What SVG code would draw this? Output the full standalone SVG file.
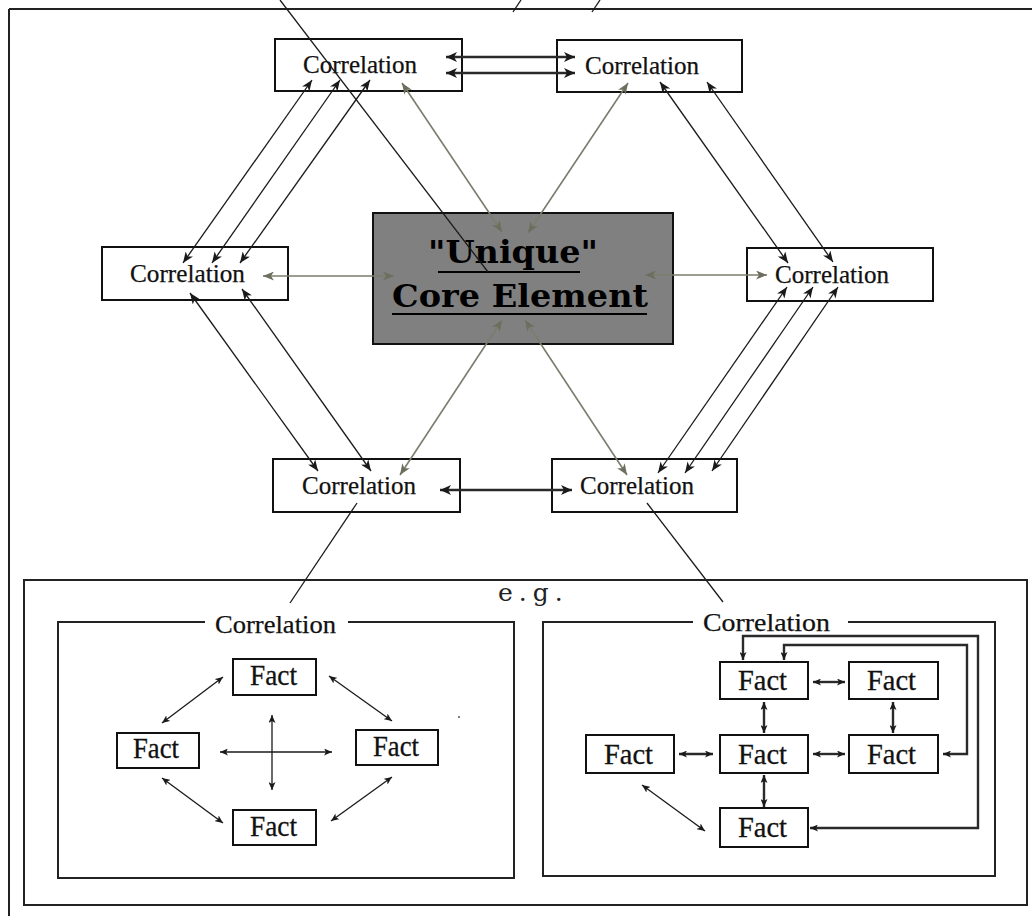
<svg xmlns="http://www.w3.org/2000/svg" width="1032" height="916" viewBox="0 0 1032 916">
<style>
.box{fill:#fff;stroke:#111;stroke-width:2}
.lbl{font-family:"Liberation Serif","Times New Roman",serif;font-size:26px;fill:#111;stroke:#111;stroke-width:0.25}
.fact{font-family:"Liberation Serif","Times New Roman",serif;font-size:29px;fill:#111;stroke:#111;stroke-width:0.3}
.core{font-family:"DejaVu Serif",serif;font-weight:bold;font-size:31px;fill:#000}
.blk{fill:none;stroke:#1a1a1a;stroke-width:1.3}
.gry{fill:none;stroke:#7c7c6c;stroke-width:1.6}
.thk{fill:none;stroke:#2a2a2a;stroke-width:2.4}
.frm{fill:none;stroke:#222;stroke-width:2}
</style>
<defs>
<marker id="ab" markerUnits="userSpaceOnUse" markerWidth="11" markerHeight="9" refX="11" refY="4.5" orient="auto-start-reverse"><path d="M0,0 L11,4.5 L0,9 L3,4.5 z" fill="#1a1a1a"/></marker>
<marker id="ag" markerUnits="userSpaceOnUse" markerWidth="11" markerHeight="9" refX="11" refY="4.5" orient="auto-start-reverse"><path d="M0,0 L11,4.5 L0,9 L3,4.5 z" fill="#6e6e5e"/></marker>
<marker id="at" markerUnits="userSpaceOnUse" markerWidth="11" markerHeight="10" refX="11" refY="5" orient="auto-start-reverse"><path d="M0,0 L11,5 L0,10 L3,5 z" fill="#1a1a1a"/></marker>
<marker id="as" markerUnits="userSpaceOnUse" markerWidth="8" markerHeight="7" refX="8" refY="3.5" orient="auto-start-reverse"><path d="M0,0 L8,3.5 L0,7 L2,3.5 z" fill="#1a1a1a"/></marker>
</defs>

<g id="frame">
<line class="frm" x1="9" y1="9" x2="1032" y2="9"/>
<line class="frm" x1="9" y1="9" x2="9" y2="916"/>
<line class="blk" x1="521" y1="0" x2="513" y2="12"/>
<line class="blk" x1="600" y1="0" x2="592" y2="12"/>
</g>

<g id="core">
<rect x="373" y="213" width="300" height="131" fill="#808080" stroke="#111" stroke-width="2"/>
<text class="core" x="513" y="263" text-anchor="middle" textLength="170" lengthAdjust="spacingAndGlyphs">"Unique"</text>
<line x1="438" y1="272" x2="580" y2="272" stroke="#000" stroke-width="2"/>
<text class="core" x="520" y="307" text-anchor="middle" textLength="256" lengthAdjust="spacingAndGlyphs">Core Element</text>
<line x1="392" y1="314" x2="647" y2="314" stroke="#000" stroke-width="2"/>
</g>

<g id="corr-tl"><rect class="box" x="275" y="39" width="187" height="52"/><text class="lbl" x="303" y="73" textLength="114" lengthAdjust="spacingAndGlyphs">Correlation</text></g>
<g id="corr-tr"><rect class="box" x="557" y="40" width="185" height="52"/><text class="lbl" x="585" y="74" textLength="114" lengthAdjust="spacingAndGlyphs">Correlation</text></g>
<g id="corr-ml"><rect class="box" x="102" y="247" width="186" height="53"/><text class="lbl" x="130" y="282" textLength="115" lengthAdjust="spacingAndGlyphs">Correlation</text></g>
<g id="corr-mr"><rect class="box" x="747" y="248" width="186" height="53"/><text class="lbl" x="775" y="283" textLength="114" lengthAdjust="spacingAndGlyphs">Correlation</text></g>
<g id="corr-bl"><rect class="box" x="273" y="459" width="187" height="53"/><text class="lbl" x="302" y="494" textLength="114" lengthAdjust="spacingAndGlyphs">Correlation</text></g>
<g id="corr-br"><rect class="box" x="552" y="459" width="185" height="53"/><text class="lbl" x="580" y="494" textLength="114" lengthAdjust="spacingAndGlyphs">Correlation</text></g>

<g id="connectors">
<line class="blk" x1="280" y1="0" x2="488" y2="272"/>
<line class="thk" x1="446" y1="57" x2="575" y2="57" marker-start="url(#at)" marker-end="url(#at)"/>
<line class="thk" x1="446" y1="73" x2="575" y2="73" marker-start="url(#at)" marker-end="url(#at)"/>
<line class="blk" x1="183" y1="263" x2="312" y2="80" marker-start="url(#ab)" marker-end="url(#ab)"/>
<line class="blk" x1="212" y1="263" x2="340" y2="80" marker-start="url(#ab)" marker-end="url(#ab)"/>
<line class="blk" x1="240" y1="263" x2="370" y2="80" marker-start="url(#ab)" marker-end="url(#ab)"/>
<line class="gry" x1="402" y1="83" x2="502" y2="232" marker-start="url(#ag)" marker-end="url(#ag)"/>
<line class="gry" x1="628" y1="83" x2="528" y2="233" marker-start="url(#ag)" marker-end="url(#ag)"/>
<line class="blk" x1="660" y1="82" x2="788" y2="263" marker-start="url(#ab)" marker-end="url(#ab)"/>
<line class="blk" x1="707" y1="82" x2="833" y2="262" marker-start="url(#ab)" marker-end="url(#ab)"/>
<line class="gry" x1="263" y1="276" x2="394" y2="276" marker-start="url(#ag)" marker-end="url(#ag)"/>
<line class="gry" x1="645" y1="275" x2="767" y2="275" marker-start="url(#ag)" marker-end="url(#ag)"/>
<line class="blk" x1="190" y1="293" x2="318" y2="471" marker-start="url(#ab)" marker-end="url(#ab)"/>
<line class="blk" x1="242" y1="289" x2="371" y2="471" marker-start="url(#ab)" marker-end="url(#ab)"/>
<line class="gry" x1="400" y1="475" x2="502" y2="320" marker-start="url(#ag)" marker-end="url(#ag)"/>
<line class="gry" x1="525" y1="320" x2="627" y2="475" marker-start="url(#ag)" marker-end="url(#ag)"/>
<line class="blk" x1="787" y1="287" x2="658" y2="473" marker-start="url(#ab)" marker-end="url(#ab)"/>
<line class="blk" x1="813" y1="287" x2="685" y2="473" marker-start="url(#ab)" marker-end="url(#ab)"/>
<line class="blk" x1="838" y1="287" x2="712" y2="471" marker-start="url(#ab)" marker-end="url(#ab)"/>
<line class="thk" x1="440" y1="490" x2="572" y2="490" marker-start="url(#at)" marker-end="url(#at)"/>
<line class="blk" x1="357" y1="503" x2="290" y2="603"/>
<line class="blk" x1="647" y1="503" x2="723" y2="602"/>
</g>

<g id="example">
<rect x="24" y="580" width="1003" height="325" fill="none" stroke="#222" stroke-width="2"/>
<text x="498" y="601" font-family="'DejaVu Serif',serif" font-size="25" fill="#222" letter-spacing="6">e.g.</text>
</g>

<g id="sub-left">
<path class="frm" d="M205 622 L58 622 L58 878 L514 878 L514 622 L348 622"/>
<text class="lbl" x="215" y="633" textLength="121" lengthAdjust="spacingAndGlyphs">Correlation</text>
<g id="fl-top"><rect class="box" x="233" y="659" width="83" height="36"/><text class="fact" x="250" y="685" textLength="47" lengthAdjust="spacingAndGlyphs">Fact</text></g>
<g id="fl-left"><rect class="box" x="117" y="733" width="82" height="35"/><text class="fact" x="133" y="758" textLength="46" lengthAdjust="spacingAndGlyphs">Fact</text></g>
<g id="fl-right"><rect class="box" x="356" y="730" width="82" height="35"/><text class="fact" x="373" y="756" textLength="46" lengthAdjust="spacingAndGlyphs">Fact</text></g>
<g id="fl-bottom"><rect class="box" x="233" y="810" width="83" height="35"/><text class="fact" x="250" y="836" textLength="47" lengthAdjust="spacingAndGlyphs">Fact</text></g>
<g id="fl-connectors">
<line class="blk" x1="223" y1="677" x2="162" y2="723" marker-start="url(#as)" marker-end="url(#as)"/>
<line class="blk" x1="329" y1="676" x2="392" y2="721" marker-start="url(#as)" marker-end="url(#as)"/>
<line class="blk" x1="162" y1="778" x2="223" y2="823" marker-start="url(#as)" marker-end="url(#as)"/>
<line class="blk" x1="392" y1="777" x2="331" y2="821" marker-start="url(#as)" marker-end="url(#as)"/>
<line class="blk" x1="220" y1="752" x2="332" y2="752" marker-start="url(#as)" marker-end="url(#as)"/>
<line class="blk" x1="272" y1="715" x2="272" y2="790" marker-start="url(#as)" marker-end="url(#as)"/>
</g>
<circle cx="459" cy="717" r="1" fill="#555"/>
</g>

<g id="sub-right">
<path class="frm" d="M693 622 L543 622 L543 876 L995 876 L995 622 L848 622"/>
<text class="lbl" x="703" y="631" textLength="127" lengthAdjust="spacingAndGlyphs">Correlation</text>
<g id="fr-1"><rect class="box" x="720" y="662" width="88" height="37"/><text class="fact" x="738" y="690" textLength="49" lengthAdjust="spacingAndGlyphs">Fact</text></g>
<g id="fr-2"><rect class="box" x="849" y="662" width="89" height="37"/><text class="fact" x="867" y="690" textLength="49" lengthAdjust="spacingAndGlyphs">Fact</text></g>
<g id="fr-3"><rect class="box" x="586" y="735" width="88" height="38"/><text class="fact" x="604" y="764" textLength="49" lengthAdjust="spacingAndGlyphs">Fact</text></g>
<g id="fr-4"><rect class="box" x="720" y="735" width="88" height="38"/><text class="fact" x="738" y="764" textLength="49" lengthAdjust="spacingAndGlyphs">Fact</text></g>
<g id="fr-5"><rect class="box" x="849" y="735" width="89" height="38"/><text class="fact" x="867" y="764" textLength="49" lengthAdjust="spacingAndGlyphs">Fact</text></g>
<g id="fr-6"><rect class="box" x="720" y="808" width="88" height="39"/><text class="fact" x="738" y="837" textLength="49" lengthAdjust="spacingAndGlyphs">Fact</text></g>
<g id="fr-connectors">
<line class="thk" x1="813" y1="682" x2="845" y2="682" marker-start="url(#as)" marker-end="url(#as)"/>
<line class="thk" x1="764" y1="702" x2="764" y2="733" marker-start="url(#as)" marker-end="url(#as)"/>
<line class="thk" x1="893" y1="702" x2="893" y2="733" marker-start="url(#as)" marker-end="url(#as)"/>
<line class="thk" x1="679" y1="754" x2="713" y2="754" marker-start="url(#as)" marker-end="url(#as)"/>
<line class="thk" x1="813" y1="754" x2="845" y2="754" marker-start="url(#as)" marker-end="url(#as)"/>
<line class="thk" x1="764" y1="775" x2="764" y2="807" marker-start="url(#as)" marker-end="url(#as)"/>
<line class="blk" x1="642" y1="785" x2="705" y2="831" marker-start="url(#as)" marker-end="url(#as)"/>
<path class="thk" d="M743 660 L743 636 L978 636 L978 828 L810 828" marker-start="url(#as)" marker-end="url(#as)"/>
<path class="thk" d="M784 660 L784 645 L967 645 L967 754 L943 754" marker-start="url(#as)" marker-end="url(#as)"/>
</g>
</g>
</svg>
